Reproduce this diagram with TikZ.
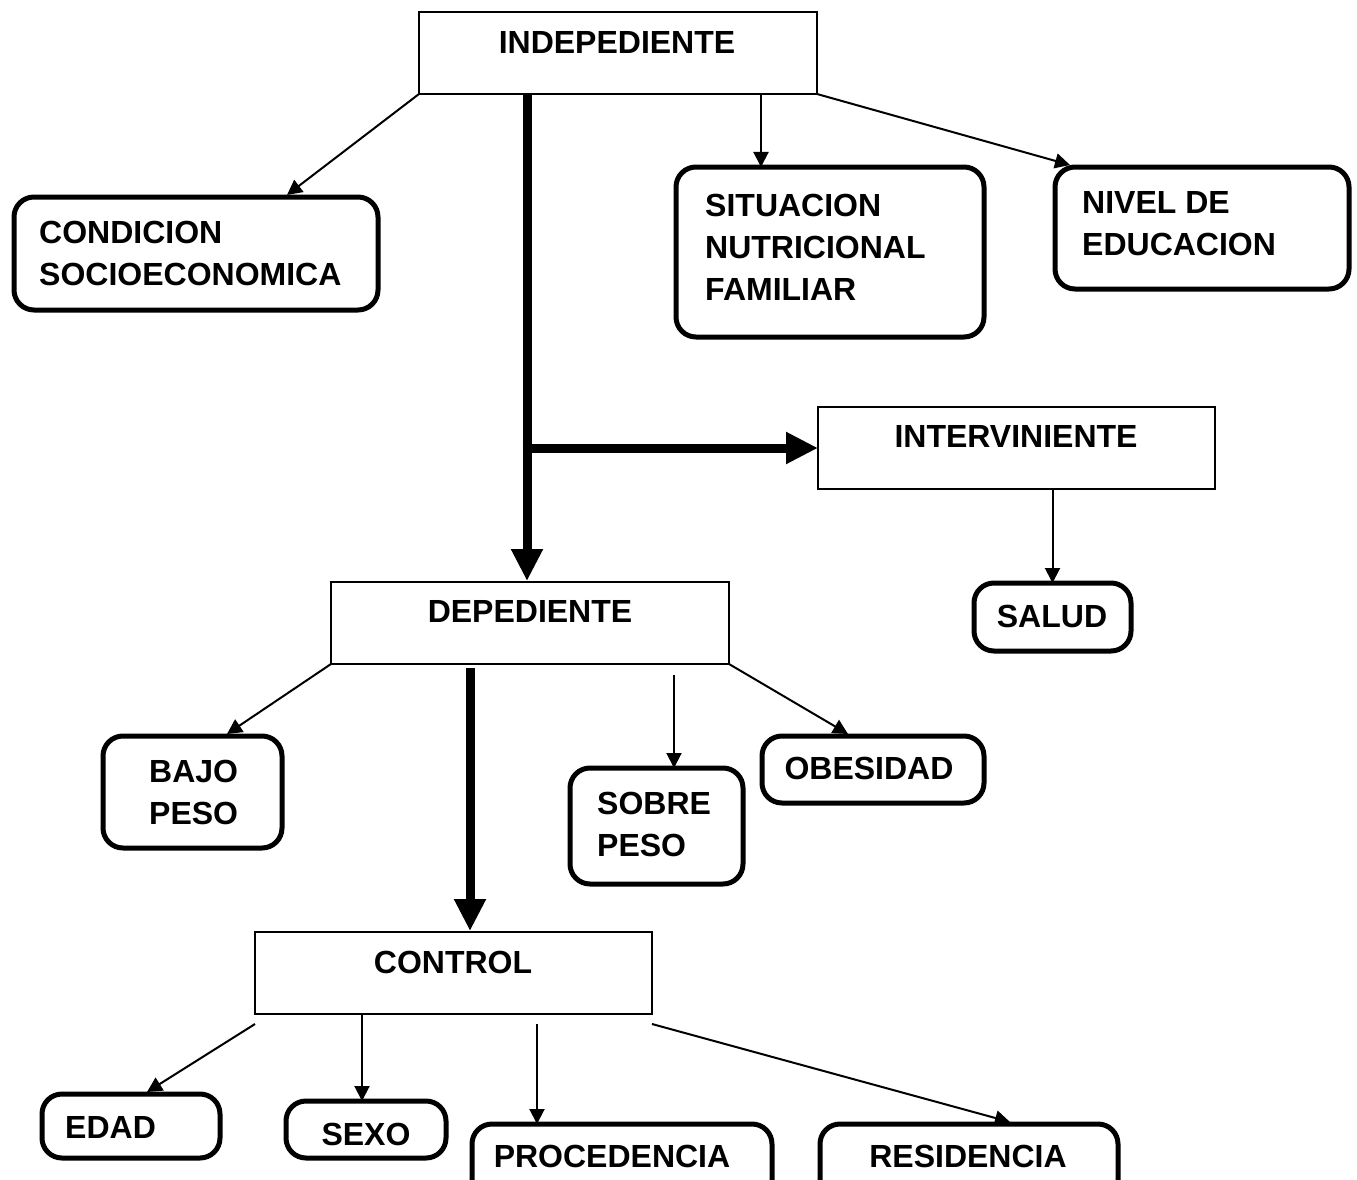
\documentclass[tikz,border=0pt]{standalone}
\usepackage{fontspec}
\setmainfont{Liberation Sans}
\usetikzlibrary{arrows.meta,calc}
\begin{document}
\begin{tikzpicture}[x=1pt,y=-1pt,
  plainbox/.style={draw,line width=2pt,anchor=north west,outer sep=0pt,inner sep=0pt},
  roundbox/.style={draw,line width=5pt,rounded corners=20pt,anchor=north west,outer sep=0pt,inner sep=0pt},
  lbl/.style={font=\fontsize{32}{42}\selectfont\bfseries,inner sep=0pt},
  thinarrow/.style={line width=2pt,-{Triangle[length=15pt,width=15pt]}},
  thickarrow/.style={line width=9pt,-{Triangle[length=32pt,width=30pt]}}]
\useasboundingbox (0,0) rectangle (1357,1180);
\clip (0,0) rectangle (1357,1180);
% boxes
\node[plainbox,minimum width=398pt,minimum height=82pt] (indep) at (419,12) {};
\node[roundbox,minimum width=364pt,minimum height=113pt] (cond) at (14,197) {};
\node[roundbox,minimum width=308pt,minimum height=170pt] (sit) at (676,167) {};
\node[roundbox,minimum width=294pt,minimum height=122pt] (nivel) at (1055,167) {};
\node[plainbox,minimum width=397pt,minimum height=82pt] (interv) at (818,407) {};
\node[roundbox,minimum width=157pt,minimum height=68pt] (salud) at (974,583) {};
\node[plainbox,minimum width=398pt,minimum height=82pt] (dep) at (331,582) {};
\node[roundbox,minimum width=179pt,minimum height=112pt] (bajo) at (103,736) {};
\node[roundbox,minimum width=173pt,minimum height=116pt] (sobre) at (570,768) {};
\node[roundbox,minimum width=222pt,minimum height=67pt] (obes) at (762,736) {};
\node[plainbox,minimum width=397pt,minimum height=82pt] (control) at (255,932) {};
\node[roundbox,minimum width=178pt,minimum height=64pt] (edad) at (42,1094) {};
\node[roundbox,minimum width=160pt,minimum height=57pt] (sexo) at (286,1101) {};
\node[roundbox,minimum width=300pt,minimum height=90pt] (proc) at (472,1124) {};
\node[roundbox,minimum width=298pt,minimum height=90pt] (resid) at (820,1124) {};
% texts
\node[lbl,anchor=base] (tindep) at (617,53.5) {INDEPEDIENTE};
\node[lbl,anchor=base west] (tcond1) at (39,243) {CONDICION};
\node[lbl,anchor=base west] (tcond2) at (39,285) {SOCIOECONOMICA};
\node[lbl,anchor=base west] (tsit1) at (705,216) {SITUACION};
\node[lbl,anchor=base west] (tsit2) at (705,258) {NUTRICIONAL};
\node[lbl,anchor=base west] (tsit3) at (705,300) {FAMILIAR};
\node[lbl,anchor=base west] (tniv1) at (1082,213) {NIVEL DE};
\node[lbl,anchor=base west] (tniv2) at (1082,255) {EDUCACION};
\node[lbl,anchor=base] (tinterv) at (1016,447) {INTERVINIENTE};
\node[lbl,anchor=base] (tsalud) at (1052,627) {SALUD};
\node[lbl,anchor=base] (tdep) at (530,622) {DEPEDIENTE};
\node[lbl,anchor=base west] (tbajo1) at (149,782) {BAJO};
\node[lbl,anchor=base west] (tbajo2) at (149,824) {PESO};
\node[lbl,anchor=base west] (tsobre1) at (597,814) {SOBRE};
\node[lbl,anchor=base west] (tsobre2) at (597,856) {PESO};
\node[lbl,anchor=base] (tobes) at (869,779) {OBESIDAD};
\node[lbl,anchor=base] (tcontrol) at (453,973) {CONTROL};
\node[lbl,anchor=base west] (tedad) at (65,1138) {EDAD};
\node[lbl,anchor=base] (tsexo) at (366,1145) {SEXO};
\node[lbl,anchor=base] (tproc) at (612,1167) {PROCEDENCIA};
\node[lbl,anchor=base] (tresid) at (968,1167) {RESIDENCIA};
% connectors
\draw[thinarrow] (indep.south west) -- ($(cond.north west)+(273,-2)$);
\draw[thickarrow] ($(indep.south west)+(108,0)$) -- ($(dep.north west)+(196,-1)$);
\coordinate (junc) at ($(indep.south west)+(103.5,354)$);
\draw[thickarrow] (junc) -- (interv.west);
\draw[thinarrow] ($(indep.south west)+(342,0)$) coordinate (s4) -- (s4 |- sit.north);
\draw[thinarrow] (indep.south east) -- ($(nivel.north west)+(15,-2)$);
\draw[thinarrow] (salud.north |- interv.south) -- (salud.north);
\draw[thinarrow] (dep.south west) -- ($(bajo.north west)+(124,-2)$);
\draw[thickarrow] ($(dep.south west)+(139,4)$) -- ($(control.north west)+(215,-1)$);
\draw[thinarrow] ($(dep.south west)+(343,11)$) coordinate (s9) -- (s9 |- sobre.north);
\draw[thinarrow] (dep.south east) -- ($(obes.north west)+(86,-2)$);
\draw[thinarrow] ($(control.south west)+(0,10)$) -- ($(edad.north west)+(105,-2)$);
\draw[thinarrow] ($(control.south west)+(107,0)$) coordinate (s12) -- (s12 |- sexo.north);
\draw[thinarrow] ($(control.south west)+(282,10)$) coordinate (s13) -- (s13 |- proc.north);
\draw[thinarrow] ($(control.south east)+(0,10)$) -- ($(resid.north west)+(190,-2)$);
\end{tikzpicture}
\end{document}
